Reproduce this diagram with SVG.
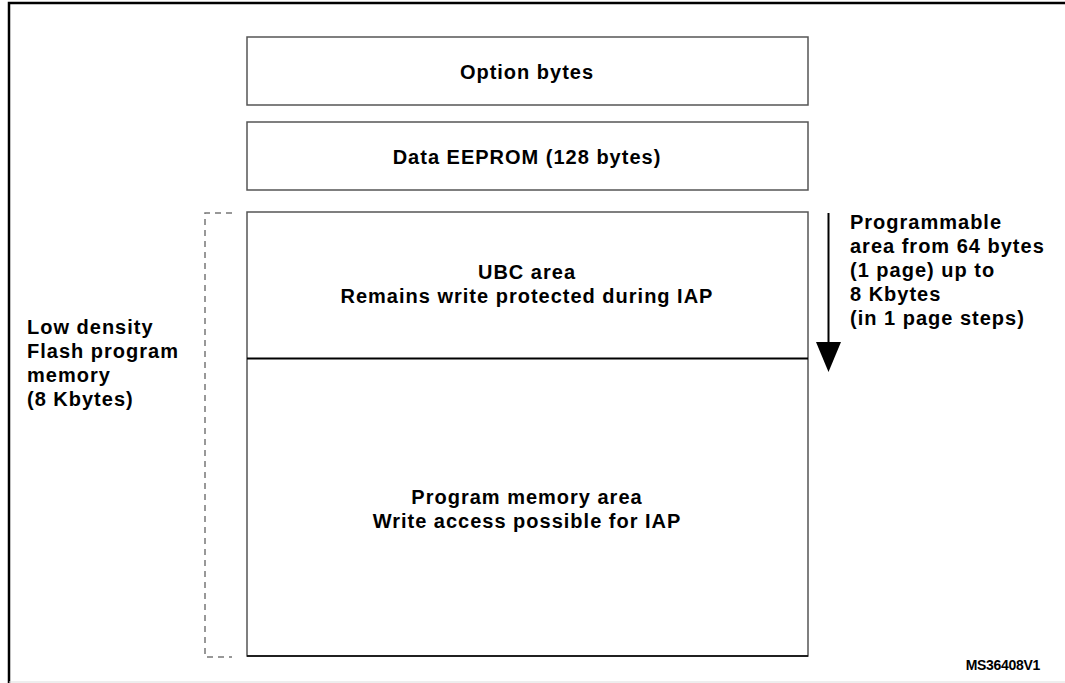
<svg xmlns="http://www.w3.org/2000/svg" width="1065" height="683" viewBox="0 0 1065 683">
<style>
text{font-family:"Liberation Sans",Arial,sans-serif;font-weight:bold;font-size:20px;letter-spacing:1px;fill:#000}
.c{text-anchor:middle}
.box{fill:#fff;stroke:#555;stroke-width:1.5}
</style>
<rect x="0" y="0" width="1065" height="683" fill="#fff"/>
<g id="frame">
<path d="M9,683 V3 H1065" fill="none" stroke="#000" stroke-width="2.5"/>
<line x1="9" y1="682" x2="1065" y2="682" stroke="#ddd" stroke-width="1"/>
</g>
<g id="option-bytes">
<rect class="box" x="247" y="37" width="561" height="68"/>
<text class="c" x="527" y="79">Option bytes</text>
</g>
<g id="data-eeprom">
<rect class="box" x="247" y="122" width="561" height="68"/>
<text class="c" x="527" y="164">Data EEPROM (128 bytes)</text>
</g>
<g id="flash">
<rect class="box" x="247" y="212" width="561" height="444"/>
<line x1="247" y1="358.5" x2="808" y2="358.5" stroke="#000" stroke-width="2"/>
<line x1="247" y1="656" x2="808" y2="656" stroke="#000" stroke-width="1.5"/>
</g>
<g id="ubc-area">
<text class="c" x="527" y="279">UBC area</text>
<text class="c" x="527" y="303">Remains write protected during IAP</text>
</g>
<g id="program-area">
<text class="c" x="527" y="504">Program memory area</text>
<text class="c" x="527" y="528">Write access possible for IAP</text>
</g>
<g id="flash-label">
<text x="27" y="334">Low density</text>
<text x="27" y="358">Flash program</text>
<text x="27" y="382">memory</text>
<text x="27" y="406">(8 Kbytes)</text>
</g>
<g id="programmable-label">
<text x="850" y="229">Programmable</text>
<text x="850" y="253">area from 64 bytes</text>
<text x="850" y="277">(1 page) up to</text>
<text x="850" y="301">8 Kbytes</text>
<text x="850" y="325">(in 1 page steps)</text>
</g>
<g id="connectors">
<path d="M232,213 H205 V657 H232" fill="none" stroke="#777" stroke-width="1.5" stroke-dasharray="6,5"/>
<line x1="828.5" y1="213" x2="828.5" y2="345" stroke="#000" stroke-width="2"/>
<polygon points="816,342 841,342 828.5,372" fill="#000"/>
</g>
<text x="1040" y="670" text-anchor="end" style="font-size:14px;letter-spacing:-0.3px">MS36408V1</text>
</svg>
